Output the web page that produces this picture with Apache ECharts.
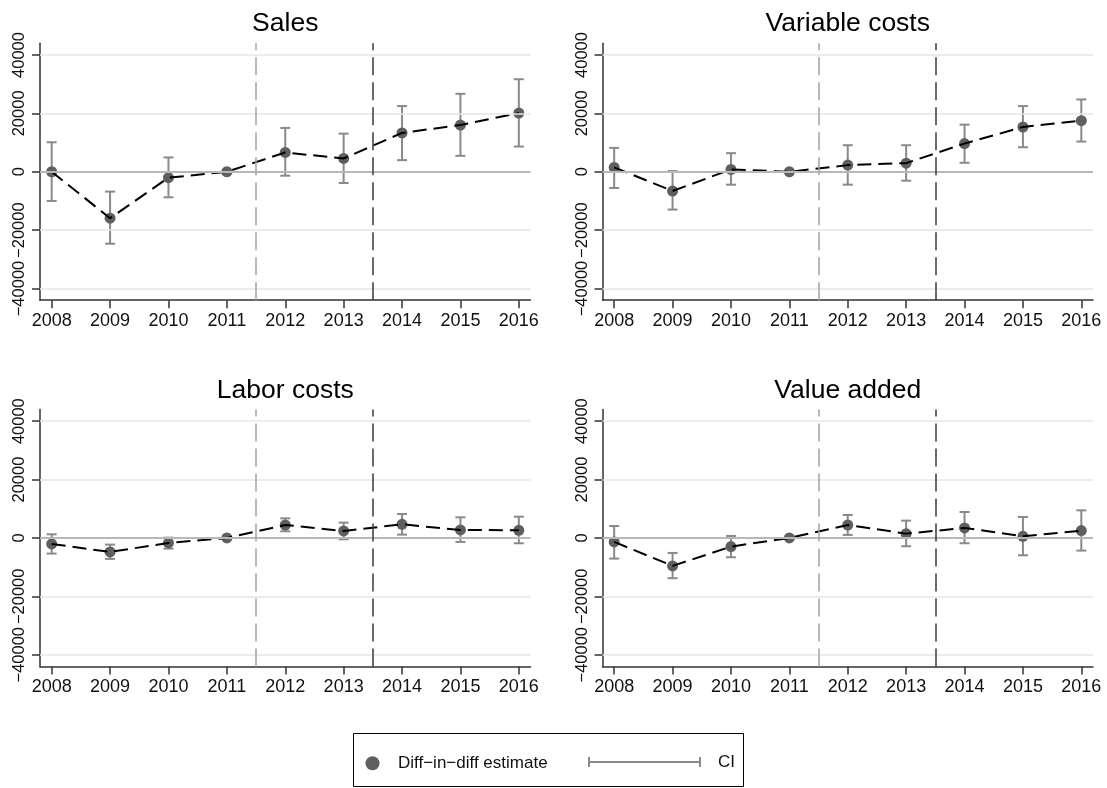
<!DOCTYPE html>
<html><head><meta charset="utf-8">
<script src="https://cdn.jsdelivr.net/npm/echarts@6/dist/echarts.min.js"></script>
<style>html,body{margin:0;padding:0;background:#fff}#c{width:1107px;height:788px}</style>
</head><body><div id="c"></div>
<script>
// ---- data ----
const years = [2008, 2009, 2010, 2011, 2012, 2013, 2014, 2015, 2016];
const titles = ['Sales', 'Variable costs', 'Labor costs', 'Value added'];

const salesEst = [0, -15900, -2050, 0, 6600, 4550, 13300, 16000, 20100];
const salesLo  = [-10000, -24650, -8750, 0, -1360, -3860, 3980, 5450, 8630];
const salesHi  = [10100, -6800, 4900, 0, 15000, 13050, 22500, 26700, 31700];

const varEst = [1480, -6590, 800, 0, 2270, 2950, 9650, 15330, 17490];
const varLo  = [-5560, -12950, -4430, 0, -4430, -3070, 3070, 8400, 10340];
const varHi  = [8180, 230, 6360, 0, 9090, 9090, 16130, 22490, 24760];

const laborEst = [-2050, -4790, -1710, 0, 4440, 2390, 4670, 2740, 2620];
const laborLo  = [-5360, -7180, -3650, 0, 2280, -460, 1140, -1370, -1820];
const laborHi  = [1250, -2280, 110, 0, 6720, 5240, 8200, 7070, 7290];

const vaEst = [-1370, -9570, -2960, 0, 4440, 1480, 3420, 570, 2510];
const vaLo  = [-7070, -13790, -6610, 0, 1030, -2850, -1820, -5930, -4330];
const vaHi  = [4100, -5130, 680, 0, 7860, 5930, 8890, 7180, 9460];

const yTicks = [-40000, -20000, 0, 20000, 40000];
const gridValues = [-40000, -20000, 20000, 40000];
const treatLines = [2011.5, 2013.5];

const estName = 'Diff\u2212in\u2212diff estimate';
const ciName = 'CI';

// ---- layout / style ----
const FONT = '"Liberation Sans", Arial, Helvetica, sans-serif';
const W = 490.5, H = 256.9;
const panels = [
  {title: titles[0], est: salesEst, lo: salesLo, hi: salesHi, left: 40,    top: 43.3,  titleTop: 10},
  {title: titles[1], est: varEst,   lo: varLo,   hi: varHi,   left: 602.5, top: 43.3,  titleTop: 10},
  {title: titles[2], est: laborEst, lo: laborLo, hi: laborHi, left: 40,    top: 409.5, titleTop: 377},
  {title: titles[3], est: vaEst,    lo: vaLo,    hi: vaHi,    left: 602.5, top: 409.5, titleTop: 377}
];

const ESTC = '#5f5f5f', CIC = '#8a8a8a', AXC = '#333';

function renderCI(params, api) {
  const x = api.value(0), lo = api.value(1), hi = api.value(2);
  const a = api.coord([x, lo]), b = api.coord([x, hi]);
  const hw = 5;
  const style = {stroke: CIC, lineWidth: 2, fill: null};
  return {type: 'group', children: [
    {type: 'line', shape: {x1: a[0], y1: a[1], x2: b[0], y2: b[1]}, style: style},
    {type: 'line', shape: {x1: a[0] - hw, y1: a[1], x2: a[0] + hw, y2: a[1]}, style: style},
    {type: 'line', shape: {x1: b[0] - hw, y1: b[1], x2: b[0] + hw, y2: b[1]}, style: style}
  ]};
}

const grid = [], xAxis = [], yAxis = [], series = [], title = [];
panels.forEach((p, i) => {
  grid.push({left: p.left, top: p.top, width: W, height: H});
  title.push({text: p.title, left: p.left + W / 2, top: p.titleTop, textAlign: 'center', padding: 0,
    textStyle: {fontSize: 26.5, fontWeight: 'normal', color: '#000', fontFamily: FONT}});
  xAxis.push({type: 'value', gridIndex: i, min: 2007.8, max: 2016.2,
    axisLine: {show: true, onZero: false, lineStyle: {color: AXC, width: 1.5}},
    axisTick: {show: true, customValues: years, length: 8, lineStyle: {color: AXC, width: 1.5}},
    axisLabel: {customValues: years, fontSize: 18, color: '#111', margin: 12, fontFamily: FONT,
      formatter: v => String(v)},
    splitLine: {show: false}});
  yAxis.push({type: 'value', gridIndex: i, min: -44000, max: 44000,
    axisLine: {show: true, onZero: false, lineStyle: {color: AXC, width: 1.5}},
    axisTick: {show: true, customValues: yTicks, length: 8, lineStyle: {color: AXC, width: 1.5}},
    axisLabel: {customValues: yTicks, rotate: 90, fontSize: 16.5, color: '#111', margin: 12, fontFamily: FONT,
      formatter: v => String(v).replace('-', '\u2212')},
    splitLine: {show: false}});

  const pts = years.map((y, k) => [y, p.est[k]]);
  const ci = years.map((y, k) => [y, p.lo[k], p.hi[k]]);

  const ml = gridValues.map(v => ({yAxis: v, lineStyle: {color: '#e6e6e6', width: 1.5, type: 'solid'}}));
  ml.push({yAxis: 0, lineStyle: {color: '#b8b8b8', width: 2, type: 'solid'}});
  ml.push({xAxis: treatLines[0], lineStyle: {color: '#a3a3a3', width: 1.5, type: [18, 7]}});
  ml.push({xAxis: treatLines[1], lineStyle: {color: '#3a3a3a', width: 1.5, type: [18, 7]}});

  series.push({type: 'line', name: 'bg' + i, xAxisIndex: i, yAxisIndex: i, data: pts, symbol: 'none',
    lineStyle: {opacity: 0}, silent: true, z: 1,
    markLine: {silent: true, symbol: 'none', label: {show: false}, animation: false, data: ml}});
  series.push({type: 'custom', name: ciName, xAxisIndex: i, yAxisIndex: i, data: ci, z: 2,
    itemStyle: {color: CIC}, encode: {x: 0, y: [1, 2]}, renderItem: renderCI});
  series.push({type: 'scatter', name: estName, xAxisIndex: i, yAxisIndex: i, data: pts, z: 3,
    symbol: 'circle', symbolSize: 11, itemStyle: {color: ESTC, opacity: 1}});
  series.push({type: 'line', name: 'trend' + i, xAxisIndex: i, yAxisIndex: i, data: pts, z: 4,
    symbol: 'none', lineStyle: {color: '#000', width: 2, type: [14, 7]}});
});

const ciIcon = 'path://M0,0H2V10H0Z M0,4H113V6H0Z M111,0H113V10H111Z';

const option = {
  animation: false,
  backgroundColor: '#fff',
  title: title,
  grid: grid, xAxis: xAxis, yAxis: yAxis, series: series,
  legend: [
    {data: [{name: estName, icon: 'circle', itemStyle: {color: ESTC}}], left: 365.5, top: 754.7,
      itemWidth: 14, itemHeight: 14, padding: 0, selectedMode: false,
      textStyle: {fontSize: 17, color: '#111', fontFamily: FONT, padding: [0, 0, 0, 13.5]}},
    {data: [{name: ciName, icon: ciIcon, itemStyle: {color: CIC}}], left: 588, top: 753.5,
      itemWidth: 113, itemHeight: 10, padding: 0, selectedMode: false,
      textStyle: {fontSize: 17, color: '#111', fontFamily: FONT, padding: [0, 0, 0, 12]}}
  ],
  graphic: [{type: 'rect', shape: {x: 353.5, y: 733.5, width: 390, height: 53},
    style: {fill: 'none', stroke: '#000', lineWidth: 1}, silent: true}]
};
const chart = echarts.init(document.getElementById('c'), null, {renderer: 'canvas'});
chart.setOption(option);
</script></body></html>
